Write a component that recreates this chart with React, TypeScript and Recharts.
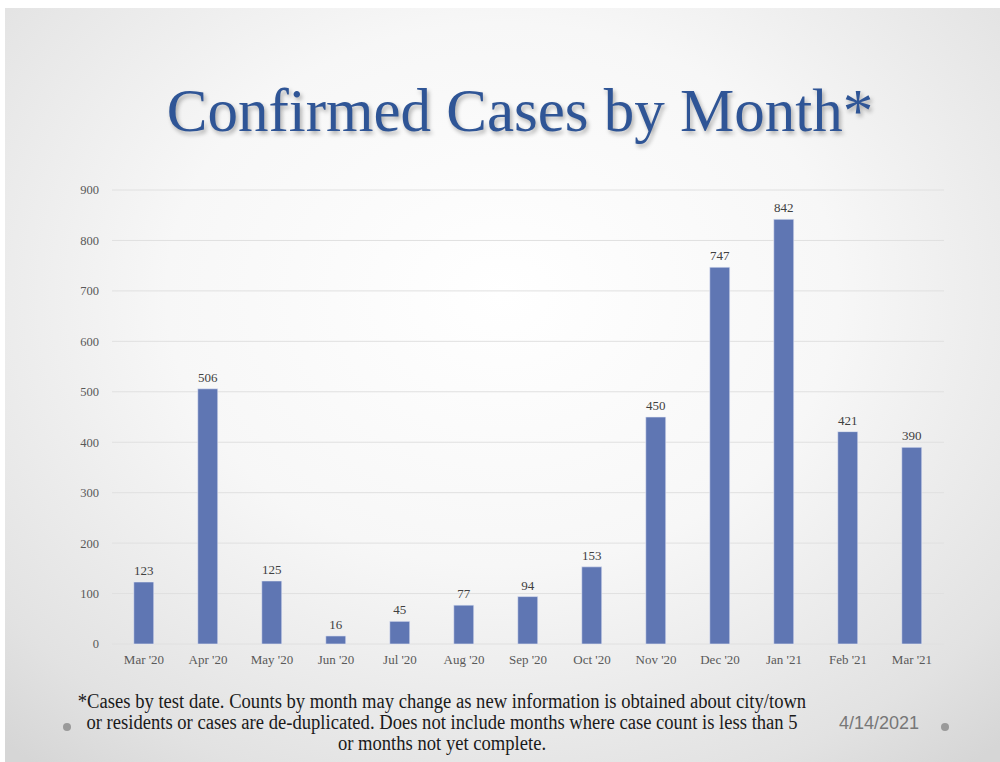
import React from "react";
import { Bar, BarChart, CartesianGrid, LabelList, XAxis, YAxis } from "recharts";

const months = [
  "Mar '20",
  "Apr '20",
  "May '20",
  "Jun '20",
  "Jul '20",
  "Aug '20",
  "Sep '20",
  "Oct '20",
  "Nov '20",
  "Dec '20",
  "Jan '21",
  "Feb '21",
  "Mar '21"
];
const cases = [123, 506, 125, 16, 45, 77, 94, 153, 450, 747, 842, 421, 390];
const yTicks = [0, 100, 200, 300, 400, 500, 600, 700, 800, 900];

const data = months.map((m, i) => ({ month: m, cases: cases[i] }));

const serif = "'Liberation Serif', 'DejaVu Serif', serif";

const App = () => {
  return (
    <div style={{ position: "fixed", left: 0, top: 0, width: 1000, height: 762, background: "#fff", overflow: "hidden" }}>
      {/* slide background */}
      <div
        style={{
          position: "absolute",
          left: 5,
          top: 8,
          width: 995,
          height: 754,
          background: "radial-gradient(ellipse 75% 80% at 50% 38%, #ffffff 0%, #f7f7f7 45%, #e2e2e2 85%, #d6d6d6 100%)"
        }}
      />

      <div
        style={{
          position: "absolute",
          left: 0,
          width: 1040,
          top: 76,
          textAlign: "center",
          fontFamily: serif,
          fontSize: 61,
          color: "#2f5596",
          textShadow: "2px 3px 4px rgba(0,0,0,0.3)",
          whiteSpace: "nowrap"
        }}
      >
        Confirmed Cases by Month*
      </div>

      <div style={{ position: "absolute", left: 60, top: 170 }}>
        <BarChart
          width={900}
          height={510}
          data={data}
          margin={{ top: 20, right: 16, left: 0, bottom: 6 }}
          barCategoryGap="34%"
        >
          <CartesianGrid vertical={false} stroke="#e0e0e0" />
          <XAxis
            dataKey="month"
            axisLine={false}
            tickLine={false}
            tickSize={0}
            tickMargin={11}
            height={30}
            interval={0}
            tick={{ fill: "#595959", fontSize: 13, fontFamily: serif }}
          />
          <YAxis
            domain={[0, 900]}
            ticks={yTicks}
            width={52}
            axisLine={false}
            tickLine={false}
            tickSize={0}
            tickMargin={13}
            tick={{ fill: "#595959", fontSize: 12.5, fontFamily: serif }}
          />
          <Bar dataKey="cases" fill="#5f76b3" stroke="#e9edf6" strokeWidth={0.6} isAnimationActive={false}>
            <LabelList
              dataKey="cases"
              position="top"
              offset={7}
              fill="#404040"
              fontSize={13}
              fontFamily={serif}
            />
          </Bar>
        </BarChart>
      </div>

      <div
        style={{
          position: "absolute",
          left: 42,
          width: 800,
          top: 691,
          textAlign: "center",
          fontFamily: serif,
          fontSize: 20,
          lineHeight: "21px",
          color: "#1a1a1a",
          transform: "scaleX(0.93)",
          transformOrigin: "400px 0",
          whiteSpace: "nowrap"
        }}
      >
        <div>*Cases by test date. Counts by month may change as new information is obtained about city/town</div>
        <div>or residents or cases are de-duplicated. Does not include months where case count is less than 5</div>
        <div>or months not yet complete.</div>
      </div>

      <div
        style={{
          position: "absolute",
          left: 839,
          top: 713,
          fontFamily: "'Liberation Sans Narrow', 'Liberation Sans', sans-serif",
          fontSize: 18,
          color: "#777"
        }}
      >
        4/14/2021
      </div>

      <div style={{ position: "absolute", left: 63, top: 723, width: 8, height: 8, borderRadius: 4, background: "#9a9a9a" }} />
      <div style={{ position: "absolute", left: 941, top: 723, width: 8, height: 8, borderRadius: 4, background: "#9a9a9a" }} />
    </div>
  );
};

export default App;
